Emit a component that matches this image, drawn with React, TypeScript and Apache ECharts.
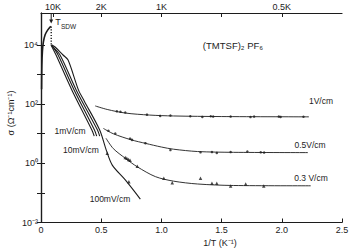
import React, { useEffect, useRef } from "react";
import * as echarts from "echarts";

// ---- axis values ----
const bottomTicks = [0, 0.5, 1.0, 1.5, 2.0, 2.5];
const topTickValues = [0.1, 0.5, 1.0, 1.5, 2.0];
const topLabelValues = [0.1, 0.5, 1.0, 2.0];
const yTickValues = [0.01, 0.1, 1, 10, 100, 1000, 10000];
const yLabelValues = [0.01, 1, 100, 10000];

// ---- curves: 1/T (K^-1) and sigma (Ohm^-1 cm^-1) ----
const riseX = [0.005, 0.007, 0.012, 0.02, 0.035, 0.055, 0.075, 0.083];
const riseS = [320, 2000, 6300, 12600, 22400, 31600, 40000, 42000];

const sdwX = [0.085, 0.085];
const sdwS = [42000, 10000];

const lineAX = [0.083, 0.125, 0.256, 0.4225, 0.442];
const lineAS = [10000, 4570, 302, 13.3, 8.3];
const lineBX = [0.088, 0.142, 0.275, 0.444, 0.4625];
const lineBS = [10000, 4570, 302, 13.3, 8.3];
const lineCX = [0.09, 0.158, 0.292, 0.469, 0.4875];
const lineCS = [9100, 4570, 302, 13.3, 8.3];
const mV100X = [0.092, 0.117, 0.183, 0.225, 0.311, 0.36, 0.4875, 0.542, 0.592, 0.7, 0.825];
const mV100S = [10000, 8500, 4570, 3090, 302, 126, 13.3, 2.8, 0.87, 0.275, 0.062];
const mV100PtsX = [0.55, 0.73];
const mV100PtsS = [2.2, 0.24];

const v1X = [0.45, 0.55, 0.7, 0.9, 1.1, 1.5, 2.225];
const v1S = [87, 66, 50, 42.7, 39.8, 38, 37.2];
const v1PtsX = [0.63, 0.66, 0.7, 0.88, 0.99, 1.075, 1.24, 1.34, 1.41, 1.43, 1.575, 1.74, 1.77, 1.975, 1.99, 2.18];
const v1PtsS = [57, 55, 52, 44, 40, 41, 39, 37, 39, 38, 38, 36.5, 38, 38, 37, 37.5];

const v05X = [0.518, 0.6, 0.75, 0.87, 1.0, 1.1, 1.3, 1.6, 2.217];
const v05S = [15.1, 10, 6.2, 4.7, 3.55, 3.0, 2.5, 2.35, 2.3];
const v05PtsX = [0.56, 0.617, 0.74, 0.756, 0.867, 1.075, 1.325, 1.42, 1.46, 1.575, 1.714, 1.825, 1.853];
const v05PtsS = [12.5, 10.2, 6.8, 6.2, 4.8, 2.8, 2.35, 2.4, 2.25, 2.4, 2.5, 2.35, 2.3];

const v03X = [0.54, 0.6, 0.7, 0.8, 0.95, 1.1, 1.3, 1.6, 2.24];
const v03S = [7.0, 3.16, 1.48, 0.76, 0.355, 0.25, 0.2, 0.178, 0.174];
const v03PtsX = [0.7, 0.713, 0.728, 0.74, 0.8, 1.02, 1.09, 1.325, 1.42, 1.46, 1.575, 1.7, 1.85];
const v03PtsS = [1.58, 1.48, 1.35, 1.26, 0.8, 0.31, 0.22, 0.31, 0.21, 0.21, 0.17, 0.2, 0.17];

const ink = "#1c1c1c";
const font = "'Liberation Sans', Arial, sans-serif";

const zip = (xs: number[], ys: number[]) => xs.map((x, i) => [x, ys[i]]);

const curve = (name: string, xs: number[], ys: number[], width = 1, extra: any = {}) => ({
  type: "line",
  name,
  data: zip(xs, ys),
  showSymbol: false,
  smooth: 0.3,
  silent: true,
  lineStyle: { color: ink, width },
  ...extra,
});

const points = (name: string, xs: number[], ys: number[], symbol = "circle", size = 2.5) => ({
  type: "scatter",
  name,
  data: zip(xs, ys),
  symbol,
  symbolSize: size,
  silent: true,
  itemStyle: { color: ink },
});

const sup = (n: number) => {
  const map: Record<string, string> = { "-": "⁻", "0": "⁰", "1": "¹", "2": "²", "3": "³", "4": "⁴", "5": "⁵" };
  return String(n).split("").map((c) => map[c] || c).join("");
};

const axisLine = { show: true, lineStyle: { color: ink, width: 1.2 } };
const tickStyle = { color: ink, width: 1 };
const labelBase = { color: ink, fontSize: 9, fontFamily: font };

const yAxisBase = (position: "left" | "right", showLabel: boolean) => ({
  type: "log",
  logBase: 10,
  min: 0.01,
  max: 120000,
  position,
  axisLine,
  splitLine: { show: false },
  axisTick: { show: true, inside: true, length: 4, customValues: yTickValues, lineStyle: tickStyle },
  axisLabel: {
    show: showLabel,
    customValues: yLabelValues,
    margin: 3,
    ...labelBase,
    formatter: (v: number) => "10" + sup(Math.round(Math.log10(v))),
  },
});

const textEl = (text: string, x: number, y: number, size = 8.5, extra: any = {}) => ({
  type: "text",
  x,
  y,
  silent: true,
  style: { text, fill: ink, font: `${size}px ${font}`, align: "center", verticalAlign: "middle" },
  ...extra,
});

const option: any = {
  animation: false,
  backgroundColor: "#ffffff",
  grid: { left: 41, right: 12, top: 13, bottom: 29.5, containLabel: false },
  xAxis: [
    {
      type: "value",
      min: 0,
      max: 2.5,
      interval: 0.5,
      position: "bottom",
      axisLine,
      splitLine: { show: false },
      axisTick: { show: true, inside: true, length: 4, lineStyle: tickStyle },
      axisLabel: {
        margin: 3,
        ...labelBase,
        formatter: (v: number) => (bottomTicks.includes(v) ? (v === 0 ? "0" : v.toFixed(1)) : ""),
      },
    },
    {
      type: "value",
      min: 0,
      max: 2.5,
      position: "top",
      axisLine,
      splitLine: { show: false },
      axisTick: { show: true, inside: true, length: 4, customValues: topTickValues, lineStyle: tickStyle },
      axisLabel: {
        customValues: topLabelValues,
        margin: 2,
        ...labelBase,
        formatter: (v: number) => `${Math.round((1 / v) * 10) / 10}K`,
      },
    },
  ],
  yAxis: [yAxisBase("left", true), yAxisBase("right", false)],
  series: [
    curve("rise", riseX, riseS, 1.6),
    curve("sdw", sdwX, sdwS, 1.4, { smooth: false, lineStyle: { color: ink, width: 1.4, type: [1.2, 1.6] } }),
    curve("1mV/cm", lineAX, lineAS, 1.1),
    curve("10mV/cm", lineBX, lineBS, 1.1),
    curve("mid", lineCX, lineCS, 1.1),
    curve("100mV/cm", mV100X, mV100S, 1.1),
    curve("1V/cm", v1X, v1S, 0.9),
    curve("0.5V/cm", v05X, v05S, 0.9),
    curve("0.3V/cm", v03X, v03S, 0.9),
    points("1V pts", v1PtsX, v1PtsS),
    points("0.5V pts", v05PtsX, v05PtsS),
    points("0.3V pts", v03PtsX, v03PtsS, "triangle", 3.5),
    points("100mV pts", mV100PtsX, mV100PtsS, "triangle", 3.5),
  ],
  graphic: [
    // T_SDW arrow
    { type: "line", silent: true, shape: { x1: 51.2, y1: 14, x2: 51.2, y2: 21 }, style: { stroke: ink, lineWidth: 1 } },
    { type: "polygon", silent: true, shape: { points: [[49.2, 19.5], [53.2, 19.5], [51.2, 23.5]] }, style: { fill: ink } },
    textEl("T", 58, 22, 9),
    { type: "text", x: 61, y: 26.5, silent: true, style: { text: "SDW", fill: ink, font: `6.5px ${font}`, align: "left", verticalAlign: "middle" } },
    textEl("(TMTSF)₂ PF₆", 233, 45, 9.5),
    textEl("1V/cm", 321, 101),
    textEl("0.5V/cm", 310, 145),
    textEl("0.3 V/cm", 311, 178),
    textEl("1mV/cm", 70, 131),
    textEl("10mV/cm", 81, 150),
    textEl("100mV/cm", 110, 199),
    textEl("1/T (K⁻¹)", 220, 243, 9),
    textEl("σ (Ω⁻¹cm⁻¹)", 11, 113, 9, { rotation: Math.PI / 2 }),
  ],
};

export default function App() {
  const ref = useRef<HTMLDivElement>(null);
  useEffect(() => {
    document.body.style.margin = "0";
    const chart = echarts.init(ref.current as HTMLDivElement, null, { renderer: "svg" });
    chart.setOption(option);
    return () => chart.dispose();
  }, []);
  return <div ref={ref} style={{ width: 354, height: 252 }} />;
}
